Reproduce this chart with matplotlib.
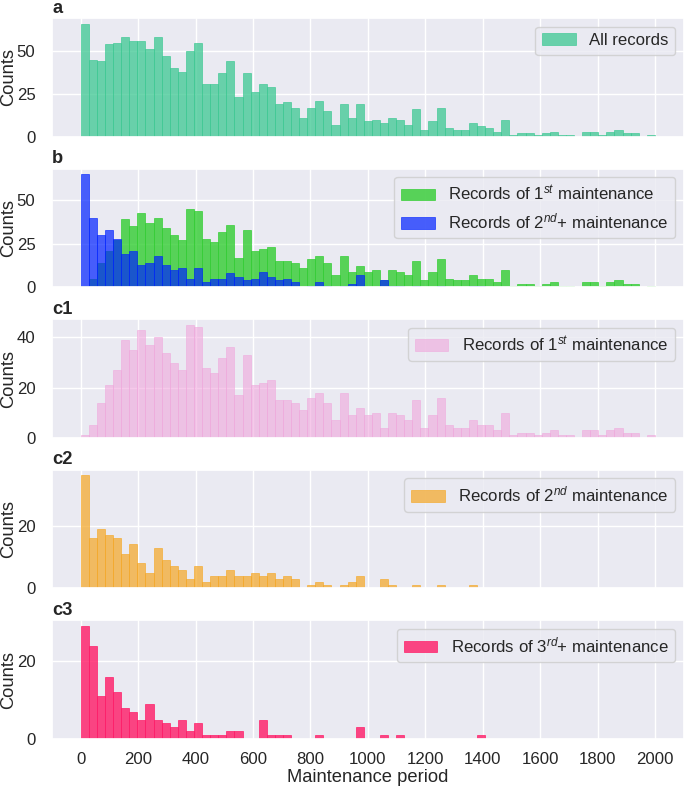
import numpy as np
import matplotlib
matplotlib.use('Agg')
import matplotlib.pyplot as plt
import seaborn as sns

# Histogram counts, one value per bin (71 equal bins between 0 and 2000)
bin_start = 0
bin_end = 2000
n_bins = 71

# Records of 1st maintenance
first_maint = [1, 5, 14, 21, 27, 39, 35, 43, 37, 40,
               34, 30, 27, 45, 44, 28, 26, 32, 36, 17,
               33, 21, 22, 23, 15, 15, 14, 11, 16, 18,
               14, 7, 18, 9, 12, 9, 10, 4, 10, 9,
               7, 15, 4, 9, 16, 5, 4, 4, 7, 5,
               5, 3, 10, 1, 2, 2, 1, 2, 3, 1,
               1, 0, 3, 3, 1, 3, 4, 2, 2, 0,
               1]

# Records of 2nd maintenance
second_maint = [36, 16, 19, 17, 16, 11, 14, 8, 5, 13,
                9, 7, 6, 3, 7, 2, 4, 4, 6, 4,
                4, 5, 4, 5, 3, 4, 3, 0, 1, 2,
                1, 0, 1, 2, 4, 0, 0, 3, 1, 0,
                0, 1, 0, 0, 1, 0, 0, 0, 1, 0,
                0, 0, 0, 0, 0, 0, 0, 0, 0, 0,
                0, 0, 0, 0, 0, 0, 0, 0, 0, 0,
                0]

# Records of 3rd+ maintenance
third_plus_maint = [29, 24, 11, 16, 12, 8, 7, 5, 9, 5,
                    4, 3, 5, 2, 4, 1, 1, 1, 2, 2,
                    0, 0, 5, 1, 1, 1, 0, 0, 0, 1,
                    0, 0, 0, 0, 3, 0, 0, 1, 0, 1,
                    0, 0, 0, 0, 0, 0, 0, 0, 0, 1,
                    0, 0, 0, 0, 0, 0, 0, 0, 0, 0,
                    0, 0, 0, 0, 0, 0, 0, 0, 0, 0,
                    0]


def draw_hist(ax, counts, edges, color, alpha, label):
    """Draw pre-binned counts as a histogram."""
    ax.hist(edges[:-1], bins=edges, weights=counts, color=color, alpha=alpha,
            edgecolor=color, linewidth=0.6, label=label)


def make_figure():
    sns.set(style='darkgrid', font_scale=1.1)
    plt.rcParams['font.family'] = ['Liberation Sans', 'DejaVu Sans']
    plt.rcParams['mathtext.fontset'] = 'custom'
    plt.rcParams['mathtext.rm'] = 'Liberation Sans'
    plt.rcParams['mathtext.it'] = 'Liberation Sans:italic'

    edges = np.linspace(bin_start, bin_end, n_bins + 1)
    first = np.array(first_maint)
    second = np.array(second_maint)
    third = np.array(third_plus_maint)
    all_records = first + second + third
    second_plus = second + third

    fig, axes = plt.subplots(5, 1, figsize=(6.85, 7.87), dpi=100, sharex=True)
    fig.subplots_adjust(left=0.076, right=0.998, top=0.977, bottom=0.061, hspace=0.27)

    # a: all records
    draw_hist(axes[0], all_records, edges, '#3cc892', 0.75, 'All records')
    axes[0].set_yticks([0, 25, 50])

    # b: 1st vs 2nd+ maintenance, overlaid
    draw_hist(axes[1], first, edges, '#32cd32', 0.8, r'Records of 1$^{st}$ maintenance')
    draw_hist(axes[1], second_plus, edges, '#0022ff', 0.7, r'Records of 2$^{nd}$+ maintenance')
    axes[1].set_yticks([0, 25, 50])

    # c1, c2, c3
    draw_hist(axes[2], first, edges, '#f0a6dc', 0.6, r'Records of 1$^{st}$ maintenance')
    axes[2].set_yticks([0, 20, 40])
    draw_hist(axes[3], second, edges, '#f5a623', 0.7, r'Records of 2$^{nd}$ maintenance')
    axes[3].set_yticks([0, 20])
    draw_hist(axes[4], third, edges, '#ff1a66', 0.8, r'Records of 3$^{rd}$+ maintenance')
    axes[4].set_yticks([0, 20])

    for ax, letter in zip(axes, ['a', 'b', 'c1', 'c2', 'c3']):
        ax.set_title(letter, loc='left', fontweight='bold', pad=4)
        ax.set_ylabel('Counts')
        ax.yaxis.set_label_coords(-0.055, 0.5)
        ax.tick_params(axis='y', pad=6)
        ax.legend(loc='upper right')

    axes[-1].set_xticks(np.arange(0, 2001, 200))
    axes[-1].set_xlabel('Maintenance period', labelpad=1)

    fig.savefig('out.png', dpi=100)


if __name__ == "__main__":
    make_figure()
